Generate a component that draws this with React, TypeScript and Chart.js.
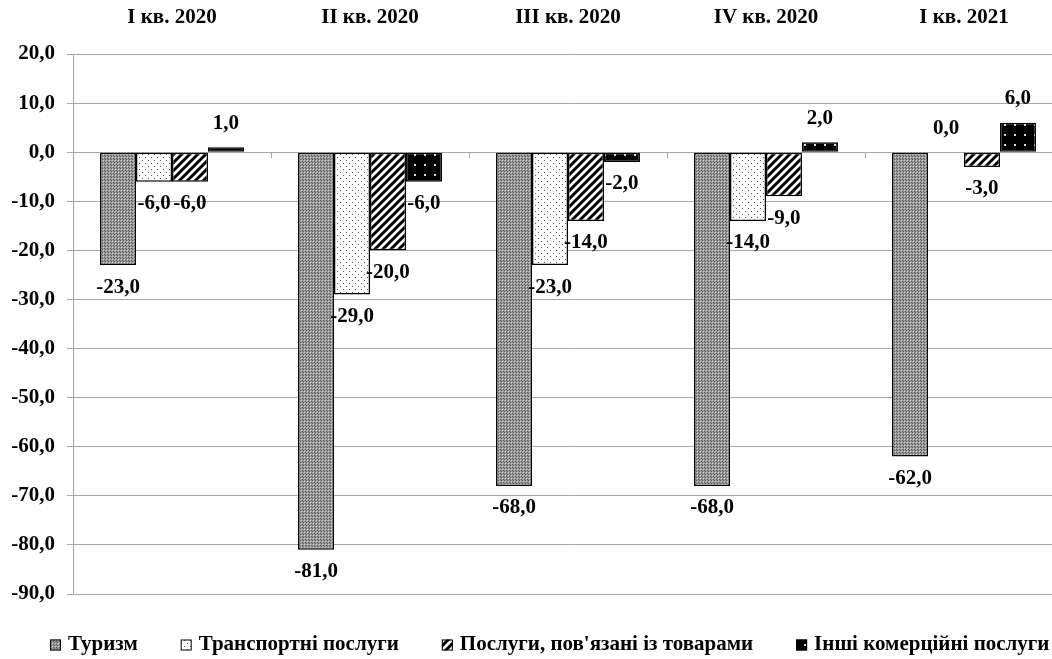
import React, { useEffect, useRef } from 'react';
import { Chart, registerables } from 'chart.js';

Chart.register(...registerables);

const categories = ['I кв. 2020', 'II кв. 2020', 'III кв. 2020', 'IV кв. 2020', 'I кв. 2021'];
const seriesNames = ['Туризм', 'Транспортні послуги', "Послуги, пов'язані із товарами", 'Інші комерційні послуги'];
const tourism = [-23, -81, -68, -68, -62];
const transport = [-6, -29, -23, -14, 0];
const goods = [-6, -20, -14, -9, -3];
const other = [1, -6, -2, 2, 6];
const yMin = -90;
const yMax = 20;
const yStep = 10;

const FONT_FAMILY = '"Liberation Serif", "Times New Roman", serif';
const FONT_SIZE = 21;
const GRID = '#a6a6a6';

const fmt = (v: number) => v.toFixed(1).replace('.', ',');

function makePattern(kind: string): CanvasPattern | string {
  const c = document.createElement('canvas');
  const ctx = c.getContext('2d');
  if (!ctx) return '#888';
  if (kind === 'checker') {
    c.width = 3; c.height = 3;
    ctx.fillStyle = '#9a9a9a';
    ctx.fillRect(0, 0, 3, 3);
    ctx.fillStyle = '#cfcfcf';
    ctx.fillRect(1, 1, 1, 1);
    ctx.fillStyle = '#5a5a5a';
    ctx.fillRect(0, 0, 1, 1);
    ctx.fillRect(2, 2, 1, 1);
  } else if (kind === 'dots') {
    c.width = 6; c.height = 6;
    ctx.fillStyle = '#ffffff';
    ctx.fillRect(0, 0, 6, 6);
    ctx.fillStyle = '#555555';
    ctx.fillRect(1, 1, 1, 1);
    ctx.fillRect(4, 4, 1, 1);
  } else if (kind === 'stripes') {
    c.width = 8; c.height = 8;
    ctx.fillStyle = '#ffffff';
    ctx.fillRect(0, 0, 8, 8);
    ctx.strokeStyle = '#000000';
    ctx.lineWidth = 3;
    ctx.beginPath();
    ctx.moveTo(-2, 10); ctx.lineTo(10, -2);
    ctx.moveTo(-2, 2); ctx.lineTo(2, -2);
    ctx.moveTo(6, 10); ctx.lineTo(10, 6);
    ctx.stroke();
  } else {
    c.width = 10; c.height = 10;
    ctx.fillStyle = '#000000';
    ctx.fillRect(0, 0, 10, 10);
    ctx.fillStyle = '#d8d8d8';
    ctx.fillRect(4, 4, 2, 2);
  }
  return ctx.createPattern(c, 'repeat') || '#888';
}

export default function App() {
  const ref = useRef<HTMLCanvasElement>(null);

  useEffect(() => {
    document.body.style.margin = '0';
    document.body.style.overflow = 'hidden';
    const canvas = ref.current;
    if (!canvas) return;
    const font = { family: FONT_FAMILY, size: FONT_SIZE, weight: 'bold' as const };
    const fills = [makePattern('checker'), makePattern('dots'), makePattern('stripes'), makePattern('darkdots')];
    const values = [tourism, transport, goods, other];

    const extras = {
      id: 'extras',
      afterDatasetsDraw(chart: any) {
        const ctx = chart.ctx;
        const xs = chart.scales.x;
        const ys = chart.scales.y;
        const y0 = ys.getPixelForValue(0);
        ctx.save();
        ctx.strokeStyle = GRID;
        ctx.lineWidth = 1;
        const n = categories.length;
        const w = (xs.right - xs.left) / n;
        for (let i = 1; i < n; i++) {
          const px = Math.round(xs.left + i * w) + 0.5;
          ctx.beginPath();
          ctx.moveTo(px, y0);
          ctx.lineTo(px, y0 + 6);
          ctx.stroke();
        }
        ctx.font = `bold ${FONT_SIZE}px ${FONT_FAMILY}`;
        ctx.fillStyle = '#000';
        ctx.textAlign = 'center';
        ctx.textBaseline = 'middle';
        values.forEach((arr, i) => {
          const meta = chart.getDatasetMeta(i);
          meta.data.forEach((el: any, j: number) => {
            const v = arr[j];
            const y = v < 0 ? el.y + 22 : el.y - 24;
            ctx.fillText(fmt(v), el.x, y);
          });
        });
        ctx.restore();
      },
      afterDraw(chart: any) {
        const ctx = chart.ctx;
        ctx.save();
        ctx.font = `bold ${FONT_SIZE}px ${FONT_FAMILY}`;
        ctx.textAlign = 'left';
        ctx.textBaseline = 'middle';
        let x = 50;
        const yc = 645;
        seriesNames.forEach((name, i) => {
          ctx.fillStyle = fills[i] as any;
          ctx.fillRect(x, yc - 5.5, 11, 11);
          ctx.strokeStyle = '#000';
          ctx.lineWidth = 1;
          ctx.strokeRect(x + 0.5, yc - 5, 10, 10);
          ctx.fillStyle = '#000';
          ctx.fillText(name, x + 18, yc);
          x += 18 + ctx.measureText(name).width + 43;
        });
        ctx.restore();
      },
    };

    const chart = new Chart(canvas, {
      type: 'bar',
      data: {
        labels: categories,
        datasets: values.map((v, i) => ({
          label: seriesNames[i],
          data: v,
          backgroundColor: fills[i] as any,
          borderColor: '#000',
          borderWidth: 1.5,
          borderSkipped: false,
          categoryPercentage: 0.727,
          barPercentage: 1,
        })),
      },
      options: {
        responsive: false,
        animation: false,
        devicePixelRatio: 1,
        layout: { padding: { left: 0, right: 47, top: 0, bottom: 65 } },
        plugins: { legend: { display: false }, tooltip: { enabled: false } },
        scales: {
          x: {
            position: 'top',
            grid: { display: false, drawTicks: false },
            border: { display: false },
            ticks: { font, color: '#000', padding: 24, maxRotation: 0, autoSkip: false },
            afterFit: (s: any) => { s.height = 54; },
          },
          y: {
            min: yMin,
            max: yMax,
            ticks: { stepSize: yStep, font, color: '#000', padding: 12, callback: (v: any) => fmt(Number(v)) },
            grid: { color: GRID, tickLength: 6, lineWidth: 1 },
            border: { color: GRID },
            afterFit: (s: any) => { s.width = 73; },
          },
        },
      } as any,
      plugins: [extras],
    });
    return () => chart.destroy();
  }, []);

  return (
    <div style={{ position: 'fixed', left: 0, top: 0, width: 1052, height: 659, overflow: 'hidden', background: '#fff' }}>
      <canvas ref={ref} width={1110} height={659} style={{ display: 'block' }} />
    </div>
  );
}
